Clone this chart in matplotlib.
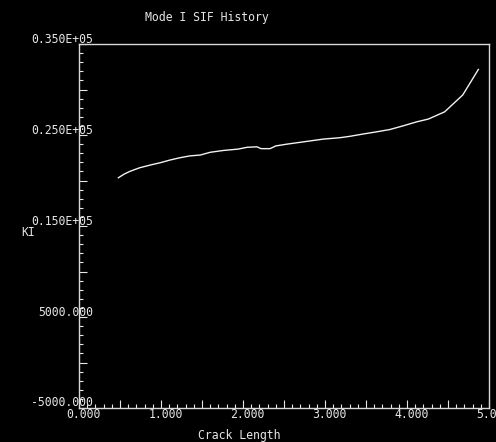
import numpy as np
import matplotlib.pyplot as plt
from matplotlib.ticker import MultipleLocator

# Mode I stress intensity factor vs crack length
crack_length = [0.48, 0.55, 0.62, 0.74, 0.87, 0.99, 1.11, 1.23, 1.35, 1.48,
                1.60, 1.76, 1.94, 2.05, 2.17, 2.22, 2.33, 2.40, 2.54, 2.66,
                2.82, 2.98, 3.18, 3.30, 3.46, 3.63, 3.79, 3.95, 4.12, 4.26,
                4.46, 4.68, 4.87]
ki = [20300, 20700, 21000, 21400, 21700, 21950, 22250, 22500, 22700, 22800,
      23100, 23300, 23450, 23650, 23700, 23500, 23500, 23800, 24000, 24150,
      24350, 24550, 24700, 24850, 25100, 25350, 25600, 26000, 26450, 26750,
      27550, 29400, 32200]

x_ticks = [0, 1, 2, 3, 4, 5]
x_labels = ['0.000', '1.000', '2.000', '3.000', '4.000', '5.000']
y_ticks = [35000, 25000, 15000, 5000, -5000]
y_labels = ['0.350E+05', '0.250E+05', '0.150E+05', '5000.000', '-5000.000']

fg = '#e6e6e6'
plt.rcParams['font.family'] = ['DejaVu Sans Mono']
fs = 8.3

fig = plt.figure(figsize=(4.96, 4.42), dpi=100, facecolor='black')
ax = fig.add_axes([79 / 496, 1 - 408 / 442, 410 / 496, 364 / 442])
ax.set_facecolor('black')

ax.plot(crack_length, ki, color='#f2f2f2', lw=1.0)

ax.set_xlim(0, 5)
ax.set_ylim(-5000, 35000)
for s in ax.spines.values():
    s.set_color('#d8d8d8')
    s.set_linewidth(1.0)

ax.xaxis.set_major_locator(MultipleLocator(0.5))
ax.xaxis.set_minor_locator(MultipleLocator(0.1))
ax.yaxis.set_major_locator(MultipleLocator(5000))
ax.yaxis.set_minor_locator(MultipleLocator(1000))
ax.tick_params(which='both', direction='in', colors=fg, width=0.8,
               labelbottom=False, labelleft=False)
ax.tick_params(which='major', length=6)
ax.tick_params(which='minor', length=3)

# axis numbers sit just off the ticks, overlapping the frame
for v, lab in zip(x_ticks, x_labels):
    ax.annotate(lab, xy=(v, 0), xycoords=('data', 'axes fraction'),
                xytext=(3.3, -4.5), textcoords='offset points',
                ha='center', va='center', color=fg, fontsize=fs,
                annotation_clip=False)
for v, lab in zip(y_ticks, y_labels):
    ax.annotate(lab, xy=(0, v), xycoords=('axes fraction', 'data'),
                xytext=(10, 3.6), textcoords='offset points',
                ha='right', va='center', color=fg, fontsize=fs,
                annotation_clip=False)

fig.text(207 / 496, 1 - 17 / 442, 'Mode I SIF History', ha='center',
         va='center', color=fg, fontsize=fs)
fig.text(239 / 496, 1 - 436 / 442, 'Crack Length', ha='center',
         va='center', color=fg, fontsize=fs)
fig.text(28 / 496, 1 - 232 / 442, 'KI', ha='center', va='center',
         color=fg, fontsize=fs)

fig.savefig('out.png', dpi=100, facecolor='black')
